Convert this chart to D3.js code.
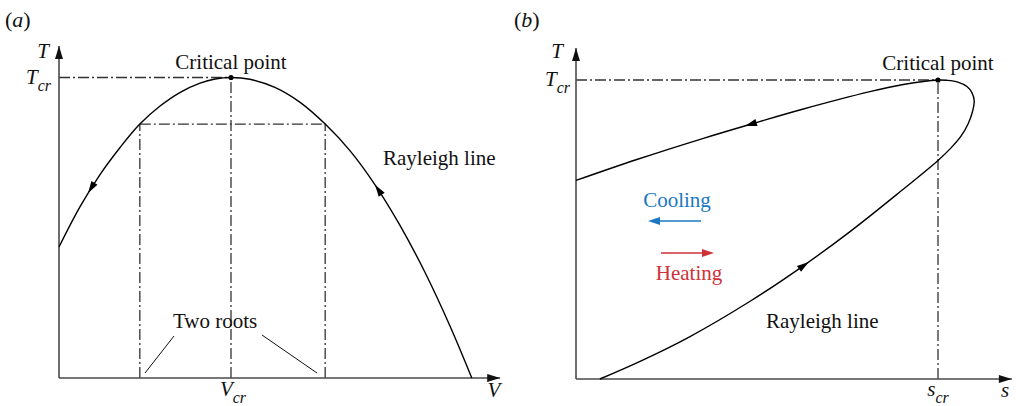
<!DOCTYPE html>
<html>
<head>
<meta charset="utf-8">
<script src="https://cdn.jsdelivr.net/npm/d3@7"></script>
<style>
  html, body { margin: 0; padding: 0; background: #fff; }
  svg { display: block; }
  text { font-family: "Liberation Serif", "Times New Roman", serif; fill: #111; }
</style>
</head>
<body>
<svg id="chart" width="1016" height="406"></svg>
<script>
// Panel (a): Rayleigh line in the T–V plane (ordered from the high-V end toward the T axis)
const rayleighV = [9.60, 9.09, 8.51, 7.93, 7.35, 6.77, 6.19, 5.60, 5.02, 4.44, 4.00, 3.63, 3.28, 2.81, 2.35, 1.88, 1.42, 0.95, 0.49, 0];
const rayleighT_a = [0, 0.174, 0.352, 0.508, 0.643, 0.756, 0.845, 0.918, 0.967, 0.994, 1.0, 0.995, 0.981, 0.950, 0.905, 0.845, 0.767, 0.676, 0.570, 0.436];
const criticalV = 4.0;
const criticalT = 1.0;
const rootsV = [1.88, 6.19];
const rootsT = 0.845;

// Panel (b): Rayleigh line in the T–s plane (ordered from the heating end, round the nose, through the critical point)
const rayleighS = [0.066, 0.177, 0.315, 0.481, 0.619, 0.757, 0.895, 1.000, 1.036, 1.064, 1.083, 1.095, 1.100, 1.094, 1.080, 1.055, 1.024, 1.000, 0.904, 0.812, 0.628, 0.485, 0.352, 0.168, 0];
const rayleighT_b = [0, 0.059, 0.142, 0.260, 0.371, 0.493, 0.626, 0.731, 0.773, 0.813, 0.853, 0.893, 0.930, 0.957, 0.978, 0.993, 0.999, 1.000, 0.985, 0.961, 0.903, 0.853, 0.805, 0.734, 0.664];
const criticalS = 1.0;

// Axis extents (data units) and panel tags
const axisA = { xMax: 10.26, yMax: 1.105 };
const axisB = { xMax: 1.204, yMax: 1.107 };
const panelLabels = ["a", "b"];

const svg = d3.select("#chart");

const xA = d3.scaleLinear().domain([0, 10]).range([59, 489]);
const yA = d3.scaleLinear().domain([0, 1]).range([378, 77.5]);
const xB = d3.scaleLinear().domain([0, 1]).range([576, 938]);
const yB = d3.scaleLinear().domain([0, 1]).range([379, 80]);

const AXIS_COLOR = "#4a4a4a";
const DASH = "11,3,2,3";

function axisArrow(g, x1, y1, x2, y2) {
  g.append("line").attr("x1", x1).attr("y1", y1).attr("x2", x2).attr("y2", y2)
    .attr("stroke", AXIS_COLOR).attr("stroke-width", 1.6);
  const ang = Math.atan2(y2 - y1, x2 - x1) * 180 / Math.PI;
  g.append("path").attr("d", "M0,0L-13,-4L-13,4Z")
    .attr("transform", `translate(${x2},${y2}) rotate(${ang})`)
    .attr("fill", "#111");
}

function dashLine(g, x1, y1, x2, y2) {
  g.append("line").attr("x1", x1).attr("y1", y1).attr("x2", x2).attr("y2", y2)
    .attr("stroke", "#333").attr("stroke-width", 1.3).attr("stroke-dasharray", DASH);
}

// Filled arrowhead on a path at the point closest to (tx, ty), pointing along the path
function pathArrow(g, node, tx, ty) {
  const L = node.getTotalLength();
  let best = 0, bestD = Infinity;
  for (let l = 0; l <= L; l += 0.5) {
    const p = node.getPointAtLength(l);
    const d = (p.x - tx) ** 2 + (p.y - ty) ** 2;
    if (d < bestD) { bestD = d; best = l; }
  }
  const p0 = node.getPointAtLength(Math.max(0, best - 4));
  const p1 = node.getPointAtLength(best);
  const ang = Math.atan2(p1.y - p0.y, p1.x - p0.x) * 180 / Math.PI;
  g.append("path").attr("d", "M0,0L-12,-3.6L-12,3.6Z")
    .attr("transform", `translate(${p1.x},${p1.y}) rotate(${ang})`)
    .attr("fill", "#000");
}

function subLabel(g, x, y, main, sub, anchor) {
  const t = g.append("text").attr("x", x).attr("y", y)
    .attr("text-anchor", anchor).style("font-style", "italic").style("font-size", "21px");
  t.append("tspan").text(main);
  t.append("tspan").attr("dy", 7).style("font-size", "16px").text(sub);
}

const line = d3.line().curve(d3.curveCatmullRom.alpha(0.5));

// ---------- Panel (a) ----------
const gA = svg.append("g");

gA.append("text").attr("x", 5).attr("y", 27).style("font-size", "22px")
  .html(`(<tspan style="font-style:italic">${panelLabels[0]}</tspan>)`);

dashLine(gA, xA(0), yA(criticalT), xA(criticalV), yA(criticalT));
dashLine(gA, xA(criticalV), yA(0), xA(criticalV), yA(criticalT));
dashLine(gA, xA(rootsV[0]), yA(rootsT), xA(rootsV[1]), yA(rootsT));
rootsV.forEach(v => dashLine(gA, xA(v), yA(0), xA(v), yA(rootsT)));

axisArrow(gA, xA(0), yA(0), xA(0), yA(axisA.yMax));
axisArrow(gA, xA(0), yA(0), xA(axisA.xMax), yA(0));

const ptsA = rayleighV.map((v, i) => [xA(v), yA(rayleighT_a[i])]);
const pathA = gA.append("path").attr("d", line(ptsA))
  .attr("fill", "none").attr("stroke", "#000").attr("stroke-width", 1.4);
pathArrow(gA, pathA.node(), xA(7.40), yA(0.647));
pathArrow(gA, pathA.node(), xA(0.67), yA(0.616));

gA.append("circle").attr("cx", xA(criticalV)).attr("cy", yA(criticalT)).attr("r", 2.6).attr("fill", "#000");

gA.append("text").attr("x", xA(criticalV)).attr("y", 69).attr("text-anchor", "middle")
  .style("font-size", "21px").text("Critical point");
gA.append("text").attr("x", 383).attr("y", 165).style("font-size", "21px").text("Rayleigh line");
gA.append("text").attr("x", 173).attr("y", 328).style("font-size", "21px").text("Two roots");
gA.append("line").attr("x1", 174).attr("y1", 336).attr("x2", 145).attr("y2", 373)
  .attr("stroke", "#111").attr("stroke-width", 1);
gA.append("line").attr("x1", 262).attr("y1", 335).attr("x2", 317).attr("y2", 373)
  .attr("stroke", "#111").attr("stroke-width", 1);

gA.append("text").attr("x", 43).attr("y", 58).attr("text-anchor", "middle")
  .style("font-style", "italic").style("font-size", "21px").text("T");
subLabel(gA, 51, yA(criticalT) + 6, "T", "cr", "end");
subLabel(gA, xA(criticalV) + 2, 396, "V", "cr", "middle");
gA.append("text").attr("x", 494).attr("y", 397).attr("text-anchor", "middle")
  .style("font-style", "italic").style("font-size", "21px").text("V");

// ---------- Panel (b) ----------
const gB = svg.append("g");

gB.append("text").attr("x", 514).attr("y", 27).style("font-size", "22px")
  .html(`(<tspan style="font-style:italic">${panelLabels[1]}</tspan>)`);

dashLine(gB, xB(0), yB(criticalT), xB(criticalS), yB(criticalT));
dashLine(gB, xB(criticalS), yB(0), xB(criticalS), yB(criticalT));

axisArrow(gB, xB(0), yB(0), xB(0), yB(axisB.yMax));
axisArrow(gB, xB(0), yB(0), xB(axisB.xMax), yB(0));

const ptsB = rayleighS.map((s, i) => [xB(s), yB(rayleighT_b[i])]);
const pathB = gB.append("path").attr("d", line(ptsB))
  .attr("fill", "none").attr("stroke", "#000").attr("stroke-width", 1.4);
pathArrow(gB, pathB.node(), xB(0.646), yB(0.387));
pathArrow(gB, pathB.node(), xB(0.467), yB(0.844));

gB.append("circle").attr("cx", xB(criticalS)).attr("cy", yB(criticalT)).attr("r", 2.6).attr("fill", "#000");

gB.append("text").attr("x", xB(criticalS)).attr("y", 70).attr("text-anchor", "middle")
  .style("font-size", "21px").text("Critical point");
gB.append("text").attr("x", 766).attr("y", 328).style("font-size", "21px").text("Rayleigh line");

// Cooling / heating indicators
const BLUE = "#1a78c4", RED = "#cf3139";
gB.append("text").attr("x", 677).attr("y", 207).attr("text-anchor", "middle")
  .style("font-size", "21px").style("fill", BLUE).text("Cooling");
gB.append("line").attr("x1", 701).attr("y1", 221).attr("x2", 658).attr("y2", 221)
  .attr("stroke", BLUE).attr("stroke-width", 1.6);
gB.append("path").attr("d", "M0,0L12,-4L12,4Z").attr("transform", "translate(648,221)").attr("fill", BLUE);

gB.append("line").attr("x1", 661).attr("y1", 253).attr("x2", 704).attr("y2", 253)
  .attr("stroke", RED).attr("stroke-width", 1.6);
gB.append("path").attr("d", "M0,0L-12,-4L-12,4Z").attr("transform", "translate(714,253)").attr("fill", RED);
gB.append("text").attr("x", 689).attr("y", 280).attr("text-anchor", "middle")
  .style("font-size", "21px").style("fill", RED).text("Heating");

gB.append("text").attr("x", 557).attr("y", 58).attr("text-anchor", "middle")
  .style("font-style", "italic").style("font-size", "21px").text("T");
subLabel(gB, 570, yB(criticalT) + 6, "T", "cr", "end");
subLabel(gB, xB(criticalS), 396, "s", "cr", "middle");
gB.append("text").attr("x", 1005).attr("y", 397).attr("text-anchor", "middle")
  .style("font-style", "italic").style("font-size", "21px").text("s");
</script>
</body>
</html>
